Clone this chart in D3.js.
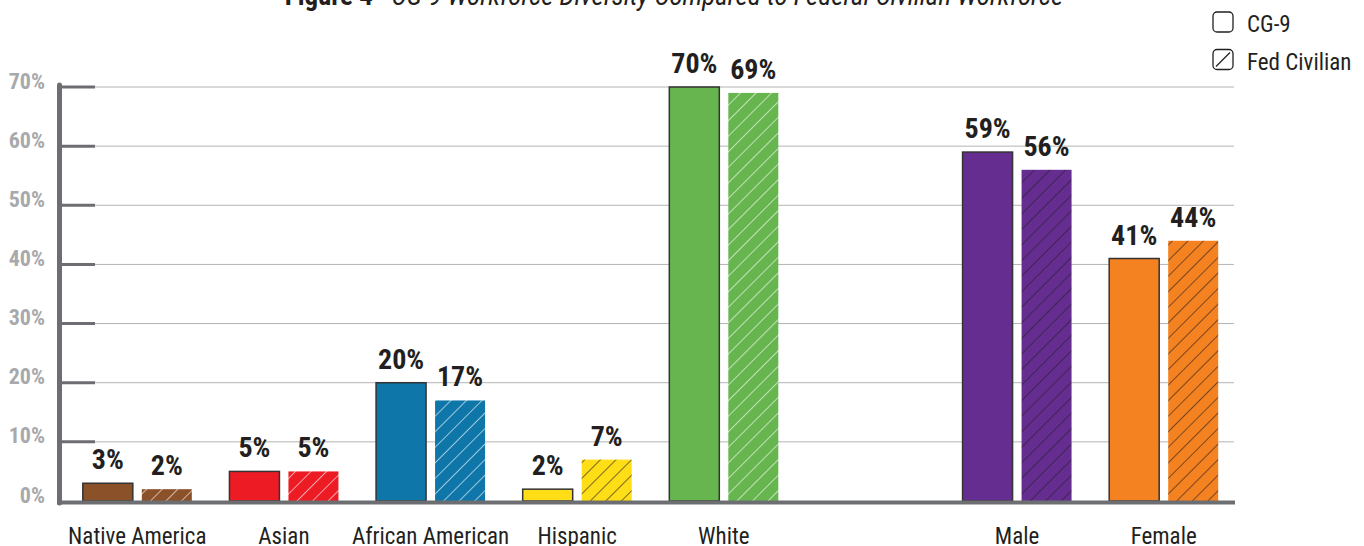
<!DOCTYPE html>
<html>
<head>
<meta charset="utf-8">
<script src="https://cdn.jsdelivr.net/npm/d3@7"></script>
<style>
  body { margin: 0; background: #fff; }
  svg { display: block; font-family: "Liberation Sans Narrow", "Roboto Condensed", "Arial Narrow", sans-serif; }
  .yLabel { fill: #a7a9ac; font-family: "Liberation Sans Narrow", "Roboto Condensed", sans-serif; font-weight: bold; font-size: 22px; }
  .catLabel { fill: #231f20; font-size: 23px; }
  .valLabel { fill: #231f20; font-weight: bold; font-size: 28px; }
  .legendText { fill: #231f20; font-size: 23px; }
  .title { fill: #231f20; font-size: 27px; }
</style>
</head>
<body>
<div id="chart"></div>
<script>
///////////////////////////////////////////
// Data
///////////////////////////////////////////
var categories = ["Native America", "Asian", "African American", "Hispanic", "White", "", "Male", "Female"];
var cg9Values = [3, 5, 20, 2, 70, null, 59, 41];
var fedValues = [2, 5, 17, 7, 69, null, 56, 44];
var barColors = ["#8b5129", "#ed1c24", "#0e76a8", "#ffde17", "#66b54f", null, "#662d91", "#f58220"];
var hatchColors = ["#fff", "#fff", "#fff", "#231f20", "#fff", null, "#231f20", "#231f20"];
var yTicks = [0, 10, 20, 30, 40, 50, 60, 70];
var seriesNames = ["CG-9", "Fed Civilian"];

///////////////////////////////////////////
// Sizes and scales
///////////////////////////////////////////
var width = 1364, height = 546;
var barW = 50, barGap = 9, hatchStep = 11;

var svg = d3.select("#chart").append("svg")
  .attr("width", width)
  .attr("height", height);

var x = d3.scaleBand()
  .domain(d3.range(categories.length))
  .range([64, 1237]);

var y = d3.scaleLinear()
  .domain([0, 70])
  .range([501, 87]);

// hatch patterns, one per category
var defs = svg.append("defs");
categories.forEach(function(c, i) {
  if (!barColors[i]) return;
  var p = defs.append("pattern")
    .attr("id", "hatch" + i)
    .attr("patternUnits", "userSpaceOnUse")
    .attr("width", hatchStep)
    .attr("height", hatchStep)
    .attr("patternTransform", "rotate(45)");
  p.append("rect")
    .attr("width", hatchStep)
    .attr("height", hatchStep)
    .attr("fill", barColors[i]);
  p.append("line")
    .attr("x1", 0).attr("y1", 0)
    .attr("x2", 0).attr("y2", hatchStep)
    .attr("stroke", hatchColors[i])
    .attr("stroke-width", 1.2);
});

///////////////////////////////////////////
// Title (cut at the top edge, as in the source)
///////////////////////////////////////////
var title = svg.append("text")
  .attr("class", "title")
  .attr("x", 674)
  .attr("y", 5)
  .attr("text-anchor", "middle");
title.append("tspan").attr("font-weight", "bold").text("Figure 4");
title.append("tspan").attr("font-style", "italic").text(" - CG-9 Workforce Diversity Compared to Federal Civilian Workforce");

///////////////////////////////////////////
// Grid and axis
///////////////////////////////////////////
svg.append("g")
  .selectAll("line")
  .data(yTicks.filter(function(d) { return d > 0; }))
  .enter().append("line")
  .attr("x1", 95)
  .attr("x2", 1234)
  .attr("y1", function(d) { return y(d); })
  .attr("y2", function(d) { return y(d); })
  .attr("stroke", "#b4b4b4")
  .attr("stroke-width", 1);

var yAxis = d3.axisLeft(y)
  .tickValues(yTicks)
  .tickSize(0)
  .tickPadding(14)
  .tickFormat(function(d) { return d + "%"; });

var yAxisG = svg.append("g")
  .attr("transform", "translate(59,0)")
  .call(yAxis);
yAxisG.select(".domain").remove();
yAxisG.selectAll("text")
  .attr("class", "yLabel")
  .attr("dy", "0")
  .attr("y", 1);

// thick tick stubs
svg.append("g")
  .selectAll("line")
  .data(yTicks.filter(function(d) { return d > 0; }))
  .enter().append("line")
  .attr("x1", 61)
  .attr("x2", 95)
  .attr("y1", function(d) { return y(d); })
  .attr("y2", function(d) { return y(d); })
  .attr("stroke", "#6d6e71")
  .attr("stroke-width", 3);

// vertical axis line
svg.append("line")
  .attr("x1", 59.5).attr("x2", 59.5)
  .attr("y1", y(70) - 2).attr("y2", y(0) + 2)
  .attr("stroke", "#6d6e71")
  .attr("stroke-width", 5)
  .attr("stroke-linecap", "round");

///////////////////////////////////////////
// Bars
///////////////////////////////////////////
var groups = svg.append("g")
  .selectAll("g")
  .data(categories.map(function(c, i) { return i; }).filter(function(i) { return barColors[i]; }))
  .enter().append("g")
  .attr("transform", function(i) { return "translate(" + (x(i) + x.bandwidth() / 2) + ",0)"; });

groups.append("rect")
  .attr("x", -barGap / 2 - barW)
  .attr("y", function(i) { return y(cg9Values[i]); })
  .attr("width", barW)
  .attr("height", function(i) { return y(0) - y(cg9Values[i]); })
  .attr("fill", function(i) { return barColors[i]; })
  .attr("stroke", "#333")
  .attr("stroke-width", 1.5);

groups.append("rect")
  .attr("x", barGap / 2)
  .attr("y", function(i) { return y(fedValues[i]); })
  .attr("width", barW)
  .attr("height", function(i) { return y(0) - y(fedValues[i]); })
  .attr("fill", function(i) { return "url(#hatch" + i + ")"; });

groups.append("text")
  .attr("class", "valLabel")
  .attr("text-anchor", "middle")
  .attr("x", -barGap / 2 - barW / 2)
  .attr("y", function(i) { return y(cg9Values[i]) - 14; })
  .text(function(i) { return cg9Values[i] + "%"; });

groups.append("text")
  .attr("class", "valLabel")
  .attr("text-anchor", "middle")
  .attr("x", barGap / 2 + barW / 2)
  .attr("y", function(i) { return y(fedValues[i]) - 14; })
  .text(function(i) { return fedValues[i] + "%"; });

groups.append("text")
  .attr("class", "catLabel")
  .attr("text-anchor", "middle")
  .attr("x", 0)
  .attr("y", 544)
  .text(function(i) { return categories[i]; });

// baseline
svg.append("line")
  .attr("x1", 57).attr("x2", 1235)
  .attr("y1", y(0) + 1.5).attr("y2", y(0) + 1.5)
  .attr("stroke", "#6d6e71")
  .attr("stroke-width", 4);

///////////////////////////////////////////
// Legend
///////////////////////////////////////////
var legend = svg.append("g")
  .selectAll("g")
  .data(seriesNames)
  .enter().append("g")
  .attr("transform", function(d, i) { return "translate(1213," + (12 + i * 37.5) + ")"; });

legend.append("rect")
  .attr("width", 20)
  .attr("height", 20)
  .attr("rx", 4)
  .attr("fill", "#fff")
  .attr("stroke", "#231f20")
  .attr("stroke-width", 1.3);

legend.filter(function(d, i) { return i === 1; })
  .append("line")
  .attr("x1", 3).attr("y1", 17)
  .attr("x2", 17).attr("y2", 3)
  .attr("stroke", "#231f20")
  .attr("stroke-width", 1.3);

legend.append("text")
  .attr("class", "legendText")
  .attr("x", 34)
  .attr("y", 20)
  .text(function(d) { return d; });
</script>
</body>
</html>
